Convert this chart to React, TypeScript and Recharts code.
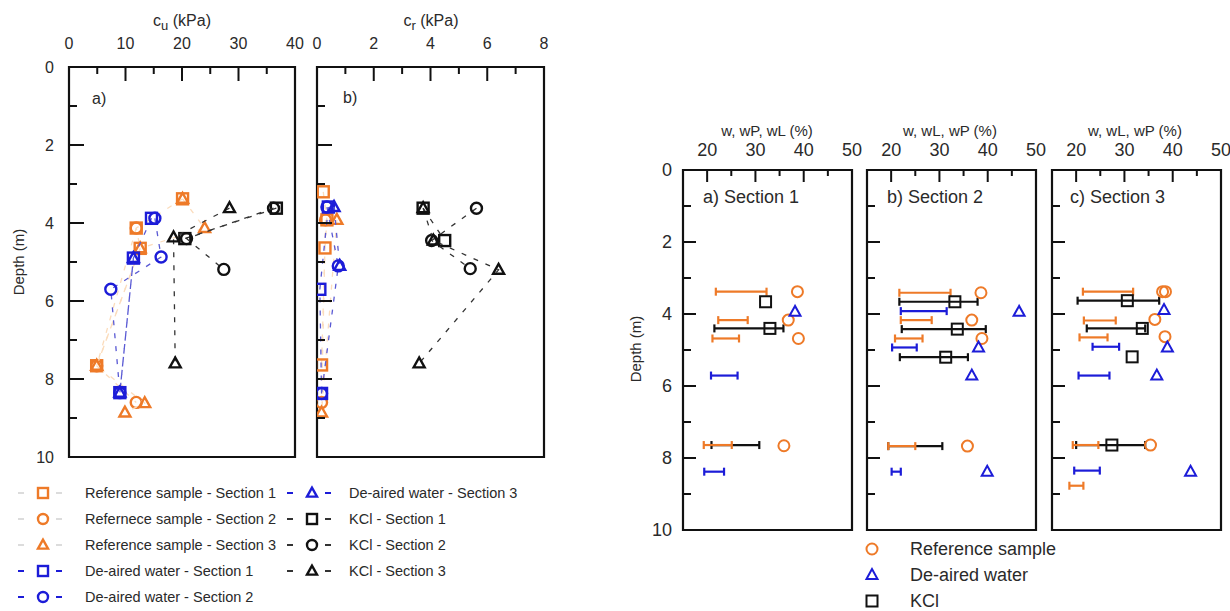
import React from "react";
import { ScatterChart, Scatter, XAxis, YAxis, ReferenceArea, ErrorBar } from "recharts";

const ORANGE = "#ee7a28";
const BLUE = "#1c1cd8";
const BLACK = "#111111";
const TEXT = "#2a2a2a";
const FONT = "'Liberation Sans', Arial, sans-serif";

// ---- left a) cu (kPa) vs depth (m)
const cuRs1Depth = [3.38, 4.13, 4.65, 7.66];
const cuRs1 = [20.1, 11.9, 12.6, 4.9];
const cuRs2Depth = [4.13, 7.66, 8.6];
const cuRs2 = [11.9, 4.9, 11.9];
const cuRs3Depth = [3.38, 4.13, 4.65, 7.66, 8.62, 8.86];
const cuRs3 = [20.1, 24.0, 12.6, 4.9, 13.4, 9.9];
const cuDa1Depth = [3.88, 4.9, 8.35];
const cuDa1 = [14.6, 11.4, 9.0];
const cuDa2Depth = [3.88, 4.87, 5.7, 8.35];
const cuDa2 = [15.2, 16.3, 7.4, 9.0];
const cuDa3Depth = [4.9, 8.35];
const cuDa3 = [11.4, 9.0];
const cuK1Depth = [3.62, 4.4];
const cuK1 = [36.7, 20.5];
const cuK2Depth = [3.62, 4.4, 5.19];
const cuK2 = [36.2, 20.8, 27.4];
const cuK3Depth = [3.62, 4.37, 7.6];
const cuK3 = [28.4, 18.5, 18.8];

// ---- left b) cr (kPa) vs depth (m)
const crRs1Depth = [3.2, 3.92, 4.64, 7.64];
const crRs1 = [0.22, 0.35, 0.28, 0.16];
const crRs2Depth = [3.92, 8.6];
const crRs2 = [0.3, 0.16];
const crRs3Depth = [3.92, 8.86];
const crRs3 = [0.7, 0.16];
const crDa1Depth = [3.59, 5.7, 8.37];
const crDa1 = [0.4, 0.1, 0.16];
const crDa2Depth = [3.59, 5.1, 8.37];
const crDa2 = [0.35, 0.75, 0.16];
const crDa3Depth = [3.59, 5.1];
const crDa3 = [0.6, 0.8];
const crK1Depth = [3.62, 4.45];
const crK1 = [3.74, 4.5];
const crK2Depth = [3.62, 4.45, 5.17];
const crK2 = [5.62, 4.04, 5.4];
const crK3Depth = [3.62, 4.45, 5.2, 7.6];
const crK3 = [3.74, 4.1, 6.4, 3.6];

// ---- right: water content w and limits wP..wL (%) per section
// Section 1
const s1RsDepth = [3.38, 4.17, 4.68, 7.66];
const s1RsW = [38.7, 36.8, 38.9, 35.9];
const s1RsBarDepth = [3.38, 4.17, 4.68, 7.64];
const s1RsWp = [21.8, 22.3, 21.1, 19.3];
const s1RsWl = [32.3, 28.4, 26.6, 25.1];
const s1DaDepth = [3.94];
const s1DaW = [38.2];
const s1DaBarDepth = [5.71, 8.38];
const s1DaWp = [20.8, 19.4];
const s1DaWl = [26.3, 23.5];
const s1KDepth = [3.66, 4.4];
const s1KW = [32.1, 33.0];
const s1KBarDepth = [4.4, 7.64];
const s1KWp = [21.5, 20.9];
const s1KWl = [35.8, 30.8];
// Section 2
const s2RsDepth = [3.41, 4.17, 4.68, 7.67];
const s2RsW = [38.6, 36.7, 38.8, 35.8];
const s2RsBarDepth = [3.41, 4.17, 4.68, 7.67];
const s2RsWp = [21.7, 22.0, 20.8, 19.4];
const s2RsWl = [32.3, 28.4, 26.5, 25.0];
const s2DaDepth = [3.94, 4.93, 5.71, 8.38];
const s2DaW = [46.5, 38.1, 36.7, 39.9];
const s2DaBarDepth = [3.92, 4.93, 8.38];
const s2DaWp = [22.0, 20.2, 20.1];
const s2DaWl = [31.5, 25.3, 22.0];
const s2KDepth = [3.66, 4.42, 5.2];
const s2KW = [33.2, 33.7, 31.3];
const s2KBarDepth = [3.66, 4.42, 5.2, 7.67];
const s2KWp = [21.7, 22.2, 21.8, 19.4];
const s2KWl = [37.9, 39.6, 35.9, 30.6];
// Section 3
const s3RsDepth = [3.38, 3.38, 4.15, 4.63, 7.64];
const s3RsW = [37.9, 38.5, 36.3, 38.4, 35.4];
const s3RsBarDepth = [3.38, 4.18, 4.65, 7.64, 8.77];
const s3RsWp = [21.4, 21.6, 20.7, 19.3, 18.6];
const s3RsWl = [31.8, 28.2, 26.5, 24.6, 21.5];
const s3DaDepth = [3.89, 4.93, 5.71, 8.38];
const s3DaW = [38.2, 38.9, 36.7, 43.7];
const s3DaBarDepth = [4.91, 5.71, 8.35];
const s3DaWp = [23.4, 20.5, 19.6];
const s3DaWl = [28.9, 26.9, 24.9];
const s3KDepth = [3.63, 4.4, 5.19, 7.64];
const s3KW = [30.6, 33.7, 31.6, 27.4];
const s3KBarDepth = [3.63, 4.4, 7.64];
const s3KWp = [20.3, 22.2, 20.0];
const s3KWl = [37.2, 34.3, 34.3];

const depthTicks = [0, 1, 2, 3, 4, 5, 6, 7, 8, 9, 10];
const cuTicks = [0, 5, 10, 15, 20, 25, 30, 35, 40];
const crTicks = [0, 1, 2, 3, 4, 5, 6, 7, 8];
const wTicks = [20, 25, 30, 35, 40, 45, 50];

const leftLegend = [
  { label: "Reference sample - Section 1", kind: "square", color: ORANGE, dash: "#dcdcdc" },
  { label: "Refernece sample - Section 2", kind: "circle", color: ORANGE, dash: "#dcdcdc" },
  { label: "Reference sample - Section 3", kind: "triangle", color: ORANGE, dash: "#dcdcdc" },
  { label: "De-aired water - Section 1", kind: "square", color: BLUE, dash: BLUE },
  { label: "De-aired water - Section 2", kind: "circle", color: BLUE, dash: BLUE },
  { label: "De-aired water - Section 3", kind: "triangle", color: BLUE, dash: BLUE },
  { label: "KCl - Section 1", kind: "square", color: BLACK, dash: "#333" },
  { label: "KCl - Section 2", kind: "circle", color: BLACK, dash: "#333" },
  { label: "KCl - Section 3", kind: "triangle", color: BLACK, dash: "#333" },
];
const rightLegend = [
  { label: "Reference sample", kind: "circle", color: ORANGE },
  { label: "De-aired water", kind: "triangle", color: BLUE },
  { label: "KCl", kind: "square", color: BLACK },
];

const pts = (d: number[], v: number[]) => d.map((y, i) => ({ x: v[i], y }));
const bars = (d: number[], lo: number[], hi: number[]) =>
  d.map((y, i) => ({ x: lo[i], y, err: [0, hi[i] - lo[i]] }));

function marker(kind: string, cx: number, cy: number, color: string, s: number, sw: number) {
  if (kind === "square")
    return <rect x={cx - s / 2} y={cy - s / 2} width={s} height={s} fill="none" stroke={color} strokeWidth={sw} />;
  if (kind === "circle") return <circle cx={cx} cy={cy} r={s / 2} fill="none" stroke={color} strokeWidth={sw} />;
  const h = s * 0.9;
  return (
    <polygon
      points={`${cx},${cy - h * 0.6} ${cx - s / 2},${cy + h * 0.4} ${cx + s / 2},${cy + h * 0.4}`}
      fill="none"
      stroke={color}
      strokeWidth={sw}
    />
  );
}
const shapeOf = (kind: string, color: string, s: number, sw: number) => (p: any) =>
  p.cx == null ? <g /> : marker(kind, p.cx, p.cy, color, s, sw);

const xTick = (isMajor: (v: number) => boolean, fs: number, off: number, longL: number, shortL: number) => (p: any) => {
  const v = p.payload.value;
  const major = isMajor(v);
  return (
    <g>
      <line x1={p.x} x2={p.x} y1={p.y} y2={p.y + (major ? longL : shortL)} stroke={BLACK} strokeWidth={2} />
      {major && (
        <text x={p.x} y={p.y - off} textAnchor="middle" fontSize={fs} fontFamily={FONT} fill={TEXT}>
          {v}
        </text>
      )}
    </g>
  );
};

const yTick = (labels: boolean, gap: number, fs: number, longL: number, shortL: number) => (p: any) => {
  const v = p.payload.value;
  const major = v % 2 === 0;
  return (
    <g>
      <line x1={p.x} x2={p.x + (major ? longL : shortL)} y1={p.y} y2={p.y} stroke={BLACK} strokeWidth={2} />
      {labels && major && (
        <text x={p.x - gap} y={p.y} dy="0.35em" textAnchor="end" fontSize={fs} fontFamily={FONT} fill={TEXT}>
          {v}
        </text>
      )}
    </g>
  );
};

const AX_W = 60;
const AX_H = 40;
const PAD = 14;

type PanelProps = {
  box: { x: number; y: number; w: number; h: number };
  xDomain: [number, number];
  xTicks: number[];
  xMajor: (v: number) => boolean;
  yLabels: boolean;
  small: boolean;
  children: React.ReactNode;
};

function Panel({ box, xDomain, xTicks, xMajor, yLabels, small, children }: PanelProps) {
  return (
    <div style={{ position: "absolute", left: box.x - AX_W, top: box.y - AX_H }}>
      <ScatterChart
        width={box.w + AX_W + PAD}
        height={box.h + AX_H + PAD}
        margin={{ top: 0, right: PAD, bottom: PAD, left: 0 }}
      >
        <XAxis
          type="number"
          dataKey="x"
          orientation="top"
          domain={xDomain}
          ticks={xTicks}
          interval={0}
          height={AX_H}
          axisLine={false}
          tickLine={false}
          tickSize={0}
          tickMargin={0}
          allowDataOverflow
          tick={small ? xTick(xMajor, 18, 14, 12, 6) : xTick(xMajor, 16, 18, 14, 7)}
        />
        <YAxis
          type="number"
          dataKey="y"
          domain={[0, 10]}
          reversed
          ticks={depthTicks}
          interval={0}
          width={AX_W}
          axisLine={false}
          tickLine={false}
          tickSize={0}
          tickMargin={0}
          allowDataOverflow
          tick={small ? yTick(yLabels, 11, 18, 13, 8) : yTick(yLabels, 15, 16, 15, 8)}
        />
        <ReferenceArea
          x1={xDomain[0]}
          x2={xDomain[1]}
          y1={0}
          y2={10}
          fill="none"
          fillOpacity={0}
          stroke={BLACK}
          strokeWidth={2.2}
          ifOverflow="visible"
        />
        {children}
      </ScatterChart>
    </div>
  );
}

const RS_LINE = "#fbdcbc";
const DA_LINE = "#5a5ad4";
const K_LINE = "#333333";

const strengthSeries = (list: any[]) =>
  list.map((s, i) => (
    <Scatter
      key={i}
      data={pts(s.d, s.v)}
      shape={shapeOf(s.kind, s.color, 11, 2.4)}
      line={{ stroke: s.line, strokeWidth: 1.3, strokeDasharray: "5 8" }}
      lineType="joint"
      isAnimationActive={false}
    />
  ));

const cuList = [
  { d: cuRs1Depth, v: cuRs1, kind: "square", color: ORANGE, line: RS_LINE },
  { d: cuRs2Depth, v: cuRs2, kind: "circle", color: ORANGE, line: RS_LINE },
  { d: cuRs3Depth, v: cuRs3, kind: "triangle", color: ORANGE, line: RS_LINE },
  { d: cuK1Depth, v: cuK1, kind: "square", color: BLACK, line: K_LINE },
  { d: cuK2Depth, v: cuK2, kind: "circle", color: BLACK, line: K_LINE },
  { d: cuK3Depth, v: cuK3, kind: "triangle", color: BLACK, line: K_LINE },
  { d: cuDa1Depth, v: cuDa1, kind: "square", color: BLUE, line: DA_LINE },
  { d: cuDa2Depth, v: cuDa2, kind: "circle", color: BLUE, line: DA_LINE },
  { d: cuDa3Depth, v: cuDa3, kind: "triangle", color: BLUE, line: DA_LINE },
];
const crList = [
  { d: crRs1Depth, v: crRs1, kind: "square", color: ORANGE, line: RS_LINE },
  { d: crRs2Depth, v: crRs2, kind: "circle", color: ORANGE, line: RS_LINE },
  { d: crRs3Depth, v: crRs3, kind: "triangle", color: ORANGE, line: RS_LINE },
  { d: crK1Depth, v: crK1, kind: "square", color: BLACK, line: K_LINE },
  { d: crK2Depth, v: crK2, kind: "circle", color: BLACK, line: K_LINE },
  { d: crK3Depth, v: crK3, kind: "triangle", color: BLACK, line: K_LINE },
  { d: crDa1Depth, v: crDa1, kind: "square", color: BLUE, line: DA_LINE },
  { d: crDa2Depth, v: crDa2, kind: "circle", color: BLUE, line: DA_LINE },
  { d: crDa3Depth, v: crDa3, kind: "triangle", color: BLUE, line: DA_LINE },
];

const limitBars = (d: number[], lo: number[], hi: number[], color: string, key: string) => (
  <Scatter key={key} data={bars(d, lo, hi)} shape={() => <g />} isAnimationActive={false}>
    <ErrorBar dataKey="err" direction="x" width={4} stroke={color} strokeWidth={2.2} />
  </Scatter>
);
const wPoints = (d: number[], w: number[], kind: string, color: string, key: string) => (
  <Scatter key={key} data={pts(d, w)} shape={shapeOf(kind, color, 11, 2)} isAnimationActive={false} />
);

const sections = [
  {
    box: { x: 683, y: 170, w: 169, h: 360 },
    labels: true,
    k: [s1KBarDepth, s1KWp, s1KWl, s1KDepth, s1KW],
    rs: [s1RsBarDepth, s1RsWp, s1RsWl, s1RsDepth, s1RsW],
    da: [s1DaBarDepth, s1DaWp, s1DaWl, s1DaDepth, s1DaW],
  },
  {
    box: { x: 867, y: 170, w: 169, h: 360 },
    labels: false,
    k: [s2KBarDepth, s2KWp, s2KWl, s2KDepth, s2KW],
    rs: [s2RsBarDepth, s2RsWp, s2RsWl, s2RsDepth, s2RsW],
    da: [s2DaBarDepth, s2DaWp, s2DaWl, s2DaDepth, s2DaW],
  },
  {
    box: { x: 1052, y: 170, w: 169, h: 360 },
    labels: false,
    k: [s3KBarDepth, s3KWp, s3KWl, s3KDepth, s3KW],
    rs: [s3RsBarDepth, s3RsWp, s3RsWl, s3RsDepth, s3RsW],
    da: [s3DaBarDepth, s3DaWp, s3DaWl, s3DaDepth, s3DaW],
  },
];

const txt = { fontFamily: FONT, fill: TEXT } as const;

export default function App() {
  return (
    <div style={{ position: "absolute", left: 0, top: 0, width: 1230, height: 611, background: "#fff", overflow: "hidden" }}>
      <Panel
        box={{ x: 69, y: 67, w: 226, h: 390 }}
        xDomain={[0, 40]}
        xTicks={cuTicks}
        xMajor={(v) => v % 10 === 0}
        yLabels
        small={false}
      >
        {strengthSeries(cuList)}
      </Panel>
      <Panel
        box={{ x: 317, y: 67, w: 227, h: 390 }}
        xDomain={[0, 8]}
        xTicks={crTicks}
        xMajor={(v) => v % 2 === 0}
        yLabels={false}
        small={false}
      >
        {strengthSeries(crList)}
      </Panel>
      {sections.map((s, i) => (
        <Panel
          key={i}
          box={s.box}
          xDomain={[15, 50]}
          xTicks={wTicks}
          xMajor={(v) => v % 10 === 0}
          yLabels={s.labels}
          small
        >
          {[
            limitBars(s.k[0], s.k[1], s.k[2], BLACK, "kb"),
            limitBars(s.rs[0], s.rs[1], s.rs[2], ORANGE, "rb"),
            limitBars(s.da[0], s.da[1], s.da[2], BLUE, "db"),
            wPoints(s.k[3], s.k[4], "square", BLACK, "kp"),
            wPoints(s.rs[3], s.rs[4], "circle", ORANGE, "rp"),
            wPoints(s.da[3], s.da[4], "triangle", BLUE, "dp"),
          ]}
        </Panel>
      ))}

      <svg width={1230} height={611} style={{ position: "absolute", left: 0, top: 0, pointerEvents: "none" }}>
        {/* axis titles */}
        <text x={182} y={26} textAnchor="middle" fontSize={16} {...txt}>
          c<tspan fontSize={13} dy={4}>u</tspan>
          <tspan dy={-4}> (kPa)</tspan>
        </text>
        <text x={431} y={26} textAnchor="middle" fontSize={16} {...txt}>
          c<tspan fontSize={13} dy={4}>r</tspan>
          <tspan dy={-4}> (kPa)</tspan>
        </text>
        <text x={24} y={262} textAnchor="middle" fontSize={15} transform="rotate(-90 24 262)" {...txt}>
          Depth (m)
        </text>
        <text x={92} y={104} fontSize={16} {...txt}>a)</text>
        <text x={343} y={103} fontSize={16} {...txt}>b)</text>

        <text x={767} y={136} textAnchor="middle" fontSize={15} {...txt}>w, wP, wL (%)</text>
        <text x={950} y={136} textAnchor="middle" fontSize={15} {...txt}>w, wL, wP (%)</text>
        <text x={1135} y={136} textAnchor="middle" fontSize={15} {...txt}>w, wL, wP (%)</text>
        <text x={641} y={349} textAnchor="middle" fontSize={15} transform="rotate(-90 641 349)" {...txt}>
          Depth (m)
        </text>
        <text x={703} y={203} fontSize={18} {...txt}>a) Section 1</text>
        <text x={887} y={203} fontSize={18} {...txt}>b) Section 2</text>
        <text x={1070} y={203} fontSize={18} {...txt}>c) Section 3</text>

        {/* left legend */}
        {leftLegend.map((e, i) => {
          const col = i < 5 ? 0 : 1;
          const row = i < 5 ? i : i - 5;
          const y = 493 + row * 26;
          const mx = col === 0 ? 43 : 312;
          const tx = col === 0 ? 85 : 349;
          return (
            <g key={e.label}>
              <line x1={mx - 25} x2={mx - 19} y1={y} y2={y} stroke={e.dash} strokeWidth={2} />
              <line x1={mx + 13} x2={mx + 19} y1={y} y2={y} stroke={e.dash} strokeWidth={2} />
              {marker(e.kind, mx, y, e.color, 10, 2.4)}
              <text x={tx} y={y + 5} fontSize={14.5} {...txt}>{e.label}</text>
            </g>
          );
        })}

        {/* right legend */}
        {rightLegend.map((e, i) => {
          const y = 549 + i * 26;
          return (
            <g key={e.label}>
              {marker(e.kind, 872, y, e.color, 11, 2)}
              <text x={910} y={y + 6} fontSize={18} {...txt}>{e.label}</text>
            </g>
          );
        })}
      </svg>
    </div>
  );
}
